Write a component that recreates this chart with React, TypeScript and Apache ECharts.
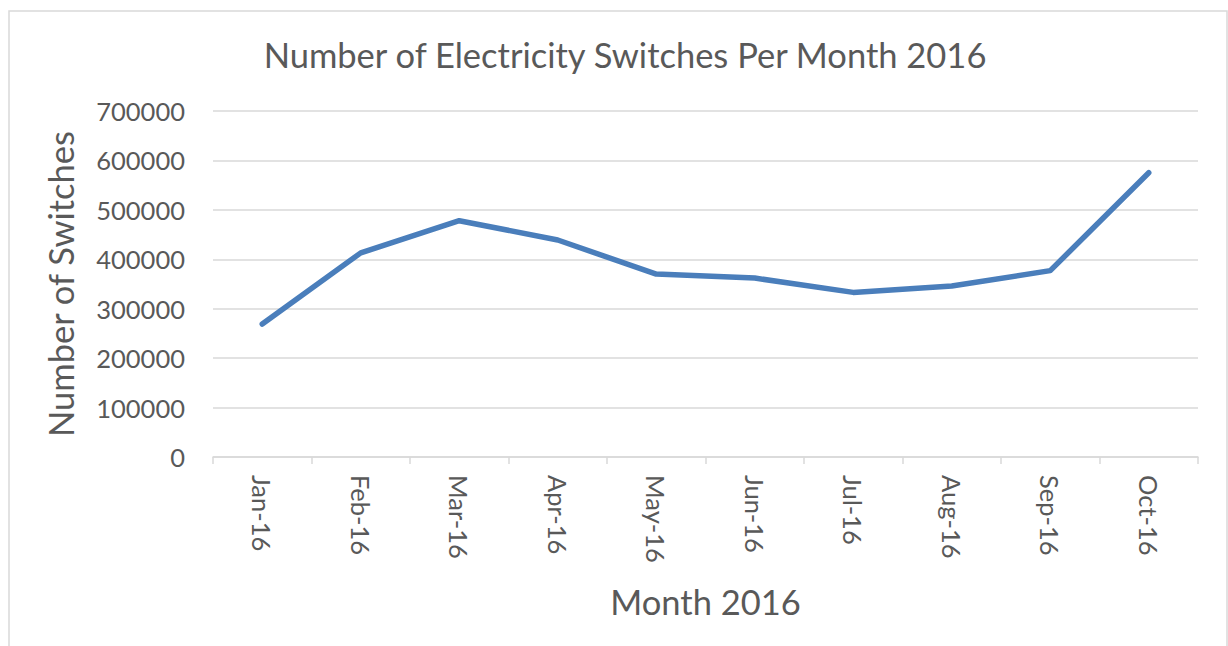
import React, { useEffect, useRef } from "react";
import * as echarts from "echarts";

const months = ["Jan-16", "Feb-16", "Mar-16", "Apr-16", "May-16", "Jun-16", "Jul-16", "Aug-16", "Sep-16", "Oct-16"];
const switches = [269000, 413000, 478000, 439000, 370000, 362000, 333000, 346000, 377000, 575000];
const titleText = "Number of Electricity Switches Per Month 2016";
const xName = "Month 2016";
const yName = "Number of Switches";

const FONT = "Lato, 'Open Sans', sans-serif";
const GREY = "#595959";

export default function App() {
  const ref = useRef<HTMLDivElement>(null);
  useEffect(() => {
    if (!ref.current) return;
    const chart = echarts.init(ref.current, null, { renderer: "svg" });
    chart.setOption({
      animation: false,
      backgroundColor: "#ffffff",
      textStyle: { fontFamily: FONT },
      title: {
        text: titleText,
        left: 620,
        top: 32,
        textAlign: "center",
        textStyle: { fontFamily: FONT, fontSize: 34.5, fontWeight: "normal", color: GREY },
      },
      graphic: [
        {
          type: "rect",
          shape: { x: 9, y: 11, width: 1218, height: 700 },
          style: { fill: "none", stroke: "#d9d9d9", lineWidth: 1.5 },
          silent: true,
        },
      ],
      grid: { left: 213, right: 30, top: 111, bottom: 189, containLabel: false },
      xAxis: {
        type: "category",
        data: months,
        boundaryGap: true,
        axisLine: { show: true, lineStyle: { color: "#d9d9d9", width: 1.5 } },
        axisTick: { show: true, length: 7, lineStyle: { color: "#d9d9d9", width: 1.5 } },
        axisLabel: { rotate: -90, margin: 18, fontSize: 25.5, color: GREY, fontFamily: FONT },
        name: xName,
        nameLocation: "middle",
        nameGap: 127,
        nameTextStyle: { fontSize: 34.5, color: GREY, fontFamily: FONT },
      },
      yAxis: {
        type: "value",
        min: 0,
        max: 700000,
        interval: 100000,
        axisLine: { show: false },
        axisTick: { show: false },
        splitLine: { lineStyle: { color: "#d9d9d9", width: 1.5 } },
        axisLabel: {
          margin: 28,
          fontSize: 25.5,
          color: GREY,
          fontFamily: FONT,
          formatter: (v: number) => String(v),
        },
        name: yName,
        nameLocation: "middle",
        nameRotate: 90,
        nameGap: 135,
        nameTextStyle: { fontSize: 34.5, color: GREY, fontFamily: FONT },
      },
      series: [
        {
          type: "line",
          data: switches,
          symbol: "none",
          lineStyle: { color: "#4a7ebb", width: 5.5, cap: "round", join: "round" },
        },
      ],
    });
    return () => chart.dispose();
  }, []);
  return (
    <div
      ref={ref}
      style={{ position: "fixed", left: 0, top: 0, width: 1228, height: 646 }}
    />
  );
}
